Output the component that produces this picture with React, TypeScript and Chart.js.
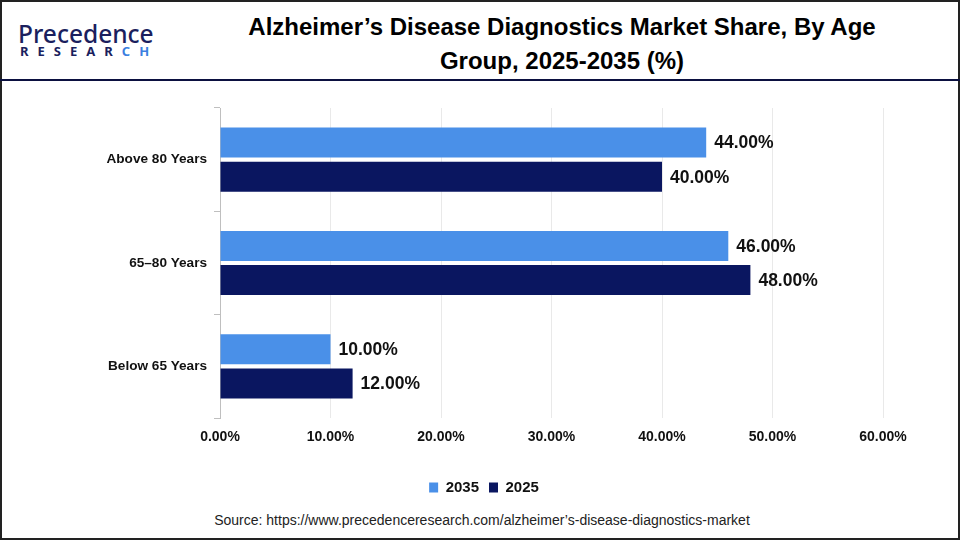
import React, { useEffect, useRef } from "react";
import { Chart, registerables } from "chart.js";

Chart.register(...registerables);

const categories = ["Above 80 Years", "65–80 Years", "Below 65 Years"];
const series2035 = [44, 46, 10];
const series2025 = [40, 48, 12];
const seriesNames = ["2035", "2025"];
const xTicks = [0, 10, 20, 30, 40, 50, 60];

const LIGHT = "#4a90e8";
const DARK = "#0a1660";

const dataLabelPlugin = {
  id: "dataLabels",
  afterDatasetsDraw(chart: any) {
    const ctx = chart.ctx;
    ctx.save();
    ctx.font = "bold 17.5px 'Liberation Sans', Arial, sans-serif";
    ctx.fillStyle = "#111111";
    ctx.textAlign = "left";
    ctx.textBaseline = "middle";
    chart.data.datasets.forEach((ds: any, i: number) => {
      const meta = chart.getDatasetMeta(i);
      meta.data.forEach((bar: any, j: number) => {
        const v = ds.data[j];
        ctx.fillText(v.toFixed(2) + "%", bar.x + 8, bar.y + 1);
      });
    });
    ctx.restore();
  },
};

export default function App() {
  const ref = useRef<HTMLCanvasElement>(null);
  useEffect(() => {
    document.body.style.margin = "0";
    const chart = new Chart(ref.current!, {
      type: "bar",
      data: {
        labels: categories,
        datasets: [
          { label: seriesNames[0], data: series2035, backgroundColor: LIGHT, categoryPercentage: 0.66, barPercentage: 0.88 },
          { label: seriesNames[1], data: series2025, backgroundColor: DARK, categoryPercentage: 0.66, barPercentage: 0.88 },
        ],
      },
      options: {
        indexAxis: "y",
        animation: false,
        responsive: false,
        maintainAspectRatio: false,
        layout: { padding: { left: 85, right: 77, top: 18, bottom: 0 } },
        scales: {
          x: {
            min: 0,
            max: 60,
            afterBuildTicks: (s: any) => {
              s.ticks = xTicks.map((v) => ({ value: v }));
            },
            afterFit: (s: any) => {
              s.height = 52;
            },
            grid: { color: "#e9e9e9", drawTicks: false, lineWidth: 1 },
            border: { display: false },
            ticks: {
              padding: 11,
              color: "#111111",
              font: { family: "'Liberation Sans', Arial, sans-serif", size: 14, weight: "bold" },
              callback: (v: any) => Number(v).toFixed(2) + "%",
            },
          },
          y: {
            afterFit: (s: any) => {
              s.width = 135;
            },
            grid: { drawOnChartArea: false, drawTicks: true, tickLength: 6, color: "#bfbfbf", offset: true },
            border: { display: true, color: "#bfbfbf", width: 1 },
            ticks: {
              padding: 7,
              color: "#111111",
              font: { family: "'Liberation Sans', Arial, sans-serif", size: 13.6, weight: "bold" },
            },
          },
        },
        plugins: {
          legend: {
            position: "bottom",
            labels: {
              boxWidth: 9,
              boxHeight: 10,
              padding: 10,
              color: "#111111",
              font: { family: "'Liberation Sans', Arial, sans-serif", size: 15, weight: "bold" },
            },
          },
          tooltip: { enabled: false },
        },
      },
      plugins: [dataLabelPlugin],
    });
    return () => chart.destroy();
  }, []);

  return (
    <div style={{ position: "relative", width: 960, height: 540, background: "#fff", overflow: "hidden", fontFamily: "'Liberation Sans', Arial, sans-serif" }}>
      <div style={{ position: "absolute", left: 0, top: 0, width: 956, height: 536, border: "2px solid #222" }} />
      <div style={{ position: "absolute", left: 0, top: 79, width: 960, height: 2, background: "#0b1040" }} />
      <div style={{ position: "absolute", left: 18, top: 19, color: "#1b1f5e", fontFamily: "'Noto Sans', sans-serif", fontWeight: 500, fontSize: 24.5, lineHeight: "30px" }}>
        Precedence
      </div>
      <div style={{ position: "absolute", left: 20, top: 43, color: "#1b1f5e", fontFamily: "'Noto Sans', sans-serif", fontWeight: 700, fontSize: 13, letterSpacing: 9, lineHeight: "16px" }}>
        RESEAR<span style={{ color: "#3b7fe0" }}>CH</span>
      </div>
      <div style={{ position: "absolute", left: 200, top: 10, width: 724, textAlign: "center", color: "#000", fontFamily: "'Liberation Sans', Arial, sans-serif", fontWeight: 700, fontSize: 24, lineHeight: "34px" }}>
        Alzheimer’s Disease Diagnostics Market Share, By Age
        <br />
        Group, 2025-2035 (%)
      </div>
      <canvas ref={ref} width={960} height={415} style={{ position: "absolute", left: 0, top: 90, width: 960, height: 415 }} />
      <div style={{ position: "absolute", left: 0, top: 512, width: 964, textAlign: "center", color: "#222", fontSize: 14, fontFamily: "'Liberation Sans Narrow', 'Liberation Sans', sans-serif" }}>
        Source: https://www.precedenceresearch.com/alzheimer’s-disease-diagnostics-market
      </div>
    </div>
  );
}
